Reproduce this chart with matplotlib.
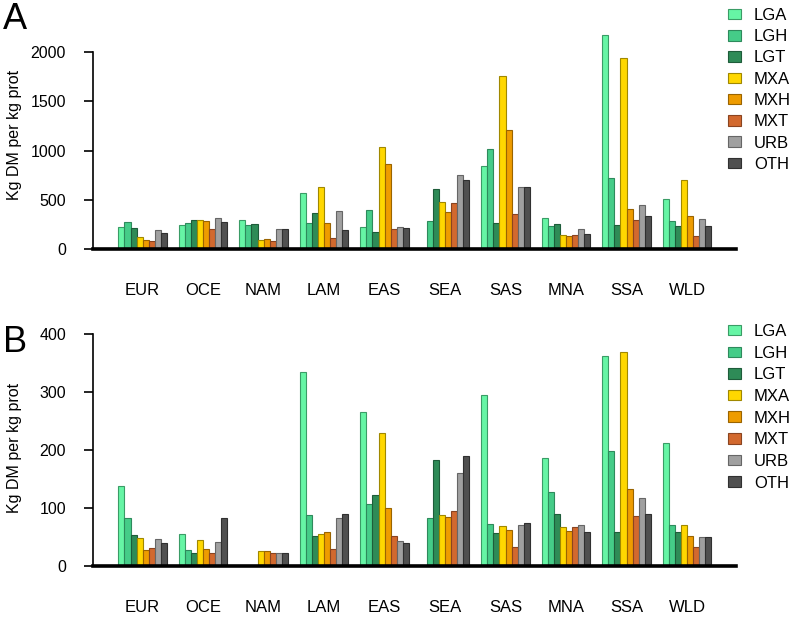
import matplotlib
matplotlib.use("Agg")
import matplotlib.pyplot as plt
import matplotlib.patches as mpatches
import numpy as np

plt.rcParams['font.family'] = ['Liberation Sans', 'DejaVu Sans']

regions = ['EUR', 'OCE', 'NAM', 'LAM', 'EAS', 'SEA', 'SAS', 'MNA', 'SSA', 'WLD']
systems = ['LGA', 'LGH', 'LGT', 'MXA', 'MXH', 'MXT', 'URB', 'OTH']
fills = ['#66F5A5', '#45CC88', '#2E8B57', '#FFD700', '#EE9C00', '#D2692E', '#A0A0A0', '#505050']
edges = ['#3A9C66', '#2E8A5C', '#1E5C3A', '#A08800', '#9A6400', '#8A4420', '#666666', '#303030']

# panel A, one list per region in system order
a_EUR = [229, 274, 213, 122, 94, 84, 193, 165]
a_OCE = [246, 267, 300, 297, 290, 209, 314, 280]
a_NAM = [297, 246, 260, 94, 104, 84, 203, 203]
a_LAM = [571, 267, 365, 632, 264, 111, 385, 193]
a_EAS = [226, 395, 172, 1034, 868, 206, 226, 216]
a_SEA = [0, 284, 612, 477, 375, 466, 750, 703]
a_SAS = [845, 1014, 267, 1755, 1210, 358, 629, 635]
a_MNA = [321, 236, 257, 148, 135, 142, 203, 155]
a_SSA = [2170, 720, 246, 1937, 406, 297, 449, 338]
a_WLD = [513, 290, 236, 706, 335, 135, 304, 240]

# panel B
b_EUR = [138, 84, 54, 49, 28, 32, 47, 40]
b_OCE = [55, 28, 23, 46, 30, 23, 42, 83]
b_NAM = [0, 0, 0, 27, 26, 23, 23, 23]
b_LAM = [335, 88, 53, 55, 59, 29, 83, 90]
b_EAS = [266, 107, 123, 230, 100, 52, 44, 40]
b_SEA = [0, 83, 183, 88, 85, 96, 161, 191]
b_SAS = [296, 73, 57, 69, 63, 34, 72, 75]
b_MNA = [187, 128, 90, 68, 61, 68, 71, 60]
b_SSA = [362, 198, 59, 369, 133, 87, 117, 90]
b_WLD = [213, 71, 60, 72, 52, 33, 50, 51]

panel_a = [a_EUR, a_OCE, a_NAM, a_LAM, a_EAS, a_SEA, a_SAS, a_MNA, a_SSA, a_WLD]
panel_b = [b_EUR, b_OCE, b_NAM, b_LAM, b_EAS, b_SEA, b_SAS, b_MNA, b_SSA, b_WLD]

W, H = 796, 617
fig = plt.figure(figsize=(W / 100, H / 100), dpi=100)


def draw_panel(rect, data, ymax, yticks, letter, letter_top, legend_top, spacing):
    ax = fig.add_axes(rect)
    vals = np.array(data)
    for i in range(len(systems)):
        x = np.arange(len(regions)) * 10 + i
        ax.bar(x, vals[:, i], width=1, align='edge', color=fills[i],
               edgecolor=edges[i], linewidth=0.8, zorder=2)
    ax.set_xlim(-4.2, 102.1)
    ax.set_ylim(0, ymax)
    ax.set_xticks(np.arange(len(regions)) * 10 + 4)
    ax.set_xticklabels(regions, fontsize=12)
    ax.tick_params(axis='x', length=0, pad=24)
    ax.set_yticks(yticks)
    ax.tick_params(axis='y', direction='out', length=6.5, width=1.2, pad=13, labelsize=11.5)
    for s in ['top', 'right']:
        ax.spines[s].set_visible(False)
    ax.spines['left'].set_bounds(yticks[0], yticks[-1])
    ax.spines['left'].set_linewidth(1.2)
    ax.spines['bottom'].set_linewidth(2.6)
    ax.spines['bottom'].set_zorder(3)
    ax.set_ylabel('Kg DM per kg prot', fontsize=11.5)
    ax.yaxis.set_label_coords(-0.11, 0.5)
    fig.text(3 / W, 1 - letter_top / H, letter, fontsize=26, ha='left', va='top')
    handles = [mpatches.Patch(facecolor=fills[i], edgecolor=edges[i], linewidth=0.8, label=systems[i])
               for i in range(len(systems))]
    fig.legend(handles=handles, loc='upper left', bbox_to_anchor=(728 / W, 1 - legend_top / H),
               frameon=False, fontsize=12, handlelength=0.8, handleheight=0.6,
               handletextpad=0.75, labelspacing=spacing, borderaxespad=0, borderpad=0)
    return ax


draw_panel([93 / W, 1 - 249.3 / H, 643 / W, 228.6 / H], panel_a, 2318,
           [0, 500, 1000, 1500, 2000], 'A', 2, 8, 0.375)
draw_panel([93 / W, 1 - 566.3 / H, 643 / W, 236.6 / H], panel_b, 408,
           [0, 100, 200, 300, 400], 'B', 325, 324, 0.4)

fig.savefig('out.png', dpi=100)
